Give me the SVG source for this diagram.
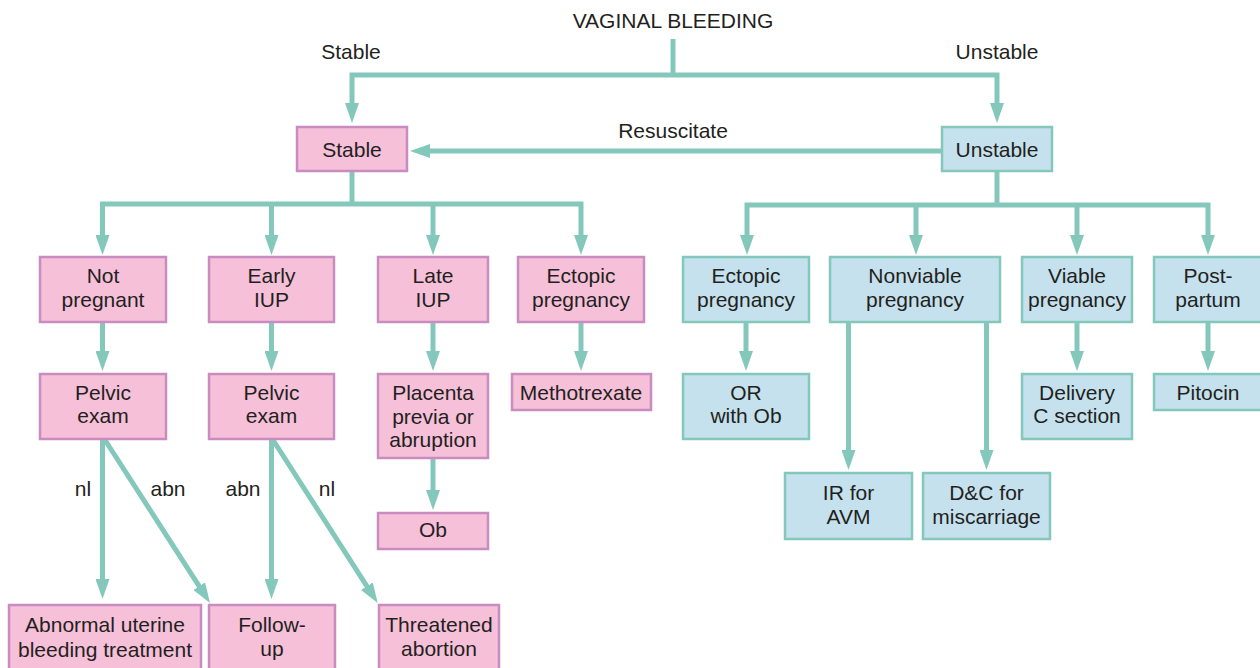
<svg xmlns="http://www.w3.org/2000/svg" width="1260" height="668" viewBox="0 0 1260 668">
<style>
.t{font-family:"Liberation Sans",Arial,Helvetica,sans-serif;font-size:21px;fill:#231f20;text-anchor:middle}
.p{fill:#f6c0d9;stroke:#c98cc0;stroke-width:2.5}
.b{fill:#c5e1ee;stroke:#84c8bb;stroke-width:2.5}
.c{fill:none;stroke:#84c8bb;stroke-width:5;stroke-linejoin:miter}
.a{marker-end:url(#ah)}
</style>
<defs>
<marker id="ah" markerUnits="userSpaceOnUse" markerWidth="20" markerHeight="14" refX="10" refY="7" orient="auto">
<path d="M0,0 L20,7 L0,14 z" fill="#84c8bb"/>
</marker>
</defs>
<rect width="1260" height="668" fill="#ffffff"/>

<g id="connectors">
<path class="c" d="M673,39 V75"/>
<path class="c a" d="M673,75 H352 V113"/>
<path class="c a" d="M673,75 H997 V113"/>
<path class="c a" d="M941,151 H420"/>
<path class="c" d="M352,172 V204"/>
<path class="c a" d="M352,204 H102.5 V245"/>
<path class="c a" d="M271.5,204 V245"/>
<path class="c a" d="M433,204 V245"/>
<path class="c a" d="M352,204 H581 V245"/>
<path class="c" d="M997,172 V205"/>
<path class="c a" d="M997,205 H747 V245"/>
<path class="c a" d="M916,205 V245"/>
<path class="c a" d="M1077,205 V245"/>
<path class="c a" d="M997,205 H1208 V245"/>
<path class="c a" d="M102.5,323 V361"/>
<path class="c a" d="M271.5,323 V361"/>
<path class="c a" d="M433,323 V361"/>
<path class="c a" d="M581,323 V361"/>
<path class="c a" d="M433,459 V500"/>
<path class="c a" d="M746,323 V361"/>
<path class="c a" d="M1077,323 V361"/>
<path class="c a" d="M1208,323 V361"/>
<path class="c a" d="M848.5,323 V460"/>
<path class="c a" d="M986.5,323 V460"/>
<path class="c a" d="M102.5,440 V589"/>
<path class="c a" d="M105,440 L204.6,594.6"/>
<path class="c a" d="M271.5,440 V589"/>
<path class="c a" d="M273,440 L372.3,594.6"/>
</g>

<g id="labels">
<text class="t" x="351" y="59">Stable</text>
<text class="t" x="997" y="59">Unstable</text>
<text class="t" x="673" y="138">Resuscitate</text>
<text class="t" x="83" y="496">nl</text>
<text class="t" x="168" y="496">abn</text>
<text class="t" x="243" y="496">abn</text>
<text class="t" x="327" y="496">nl</text>
</g>

<g id="n-title"><text class="t" x="673" y="28">VAGINAL BLEEDING</text></g>

<g id="n-stable"><rect class="p" x="297" y="127" width="110" height="44"/><text class="t" x="352" y="157">Stable</text></g>
<g id="n-unstable"><rect class="b" x="942" y="127" width="110" height="44"/><text class="t" x="997" y="157">Unstable</text></g>

<g id="n-notpreg"><rect class="p" x="40" y="257" width="126" height="65"/><text class="t" x="103" y="283">Not</text><text class="t" x="103" y="307">pregnant</text></g>
<g id="n-early"><rect class="p" x="209" y="257" width="125" height="65"/><text class="t" x="271.5" y="283">Early</text><text class="t" x="271.5" y="307">IUP</text></g>
<g id="n-late"><rect class="p" x="378" y="257" width="110" height="65"/><text class="t" x="433" y="283">Late</text><text class="t" x="433" y="307">IUP</text></g>
<g id="n-ectopic-s"><rect class="p" x="518" y="257" width="126" height="65"/><text class="t" x="581" y="283">Ectopic</text><text class="t" x="581" y="307">pregnancy</text></g>

<g id="n-pelvic1"><rect class="p" x="40" y="374" width="126" height="65"/><text class="t" x="103" y="400">Pelvic</text><text class="t" x="103" y="423">exam</text></g>
<g id="n-pelvic2"><rect class="p" x="209" y="374" width="125" height="65"/><text class="t" x="271.5" y="400">Pelvic</text><text class="t" x="271.5" y="423">exam</text></g>
<g id="n-placenta"><rect class="p" x="378" y="374" width="110" height="84"/><text class="t" x="433" y="400">Placenta</text><text class="t" x="433" y="424">previa or</text><text class="t" x="433" y="447">abruption</text></g>
<g id="n-methotrexate"><rect class="p" x="512" y="374" width="139" height="36"/><text class="t" x="581" y="400">Methotrexate</text></g>
<g id="n-ob"><rect class="p" x="378" y="513" width="110" height="36"/><text class="t" x="433" y="537">Ob</text></g>

<g id="n-aub"><rect class="p" x="9" y="605" width="192" height="70"/><text class="t" x="105" y="632">Abnormal uterine</text><text class="t" x="105" y="657">bleeding treatment</text></g>
<g id="n-followup"><rect class="p" x="209" y="605" width="126" height="70"/><text class="t" x="272" y="632">Follow-</text><text class="t" x="272" y="656">up</text></g>
<g id="n-threatened"><rect class="p" x="379" y="605" width="120" height="70"/><text class="t" x="439" y="632">Threatened</text><text class="t" x="439" y="656">abortion</text></g>

<g id="n-ectopic-u"><rect class="b" x="683" y="257" width="126" height="65"/><text class="t" x="746" y="283">Ectopic</text><text class="t" x="746" y="307">pregnancy</text></g>
<g id="n-nonviable"><rect class="b" x="830" y="257" width="170" height="65"/><text class="t" x="915" y="283">Nonviable</text><text class="t" x="915" y="307">pregnancy</text></g>
<g id="n-viable"><rect class="b" x="1022" y="257" width="110" height="65"/><text class="t" x="1077" y="283">Viable</text><text class="t" x="1077" y="307">pregnancy</text></g>
<g id="n-postpartum"><rect class="b" x="1154" y="257" width="112" height="65"/><text class="t" x="1208" y="283">Post-</text><text class="t" x="1208" y="307">partum</text></g>

<g id="n-or"><rect class="b" x="683" y="374" width="126" height="65"/><text class="t" x="746" y="400">OR</text><text class="t" x="746" y="423">with Ob</text></g>
<g id="n-delivery"><rect class="b" x="1022" y="374" width="110" height="65"/><text class="t" x="1077" y="400">Delivery</text><text class="t" x="1077" y="423">C section</text></g>
<g id="n-pitocin"><rect class="b" x="1154" y="374" width="112" height="36"/><text class="t" x="1208" y="400">Pitocin</text></g>

<g id="n-ir"><rect class="b" x="785" y="473" width="127" height="66"/><text class="t" x="848.5" y="500">IR for</text><text class="t" x="848.5" y="524">AVM</text></g>
<g id="n-dc"><rect class="b" x="923" y="473" width="127" height="66"/><text class="t" x="986.5" y="500">D&amp;C for</text><text class="t" x="986.5" y="524">miscarriage</text></g>
</svg>
